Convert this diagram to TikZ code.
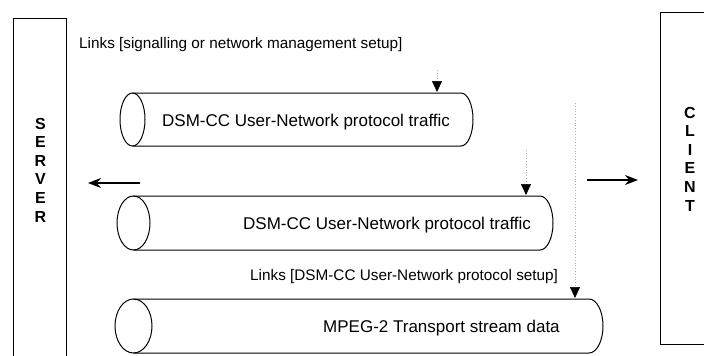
\documentclass[tikz,border=0pt]{standalone}
\usepackage{fontspec}
\setmainfont{Liberation Sans}
\usetikzlibrary{arrows.meta}
\begin{document}
\begin{tikzpicture}[x=1pt,y=-1pt,
  box/.style={draw, line width=1.2pt, inner sep=0pt, anchor=north west},
  tube/.style={draw, line width=1pt},
  lbl/.style={font=\fontsize{15.3}{18}\selectfont, anchor=base west, inner sep=0pt},
  tubetext/.style={font=\fontsize{17}{20}\selectfont, anchor=base west, inner sep=0pt},
  stack/.style={font=\bfseries\fontsize{16}{18.6}\selectfont, align=center, inner sep=0pt},
  stem/.style={draw=black!30, dash pattern=on 0.8pt off 2pt, line width=0.7pt,
    -{Triangle[width=10pt,length=11pt,color=black]}},
  flow/.style={line width=1.3pt, -{Stealth[length=13pt,width=10pt]}}]
\useasboundingbox (0,0) rectangle (704,356);
\clip (0,0) rectangle (704,356);

% end stations
\node[box, minimum width=53pt, minimum height=380pt] (server) at (13,18) {};
\node[box, minimum width=70pt, minimum height=332pt] (client) at (660,12) {};
\node[stack] (srvtxt) at (40.5,170) {S\\E\\R\\V\\E\\R};
\node[stack] (clitxt) at (690,159) {C\\L\\I\\E\\N\\T};

% first pipe
\draw[tube] (132.5,93) -- (461,93)
  arc[start angle=90, end angle=-90, x radius=12pt, y radius=26.5pt] -- (132.5,146);
\draw[tube] (132.5,119.5) ellipse [x radius=12.5pt, y radius=26.5pt];

% second pipe
\draw[tube] (133.5,196) -- (540,196)
  arc[start angle=90, end angle=-90, x radius=13pt, y radius=27pt] -- (133.5,250);
\draw[tube] (133.5,223) ellipse [x radius=16.5pt, y radius=27pt];

% third pipe
\draw[tube] (133.5,299) -- (589,299)
  arc[start angle=90, end angle=-90, x radius=14pt, y radius=27pt] -- (133.5,353);
\draw[tube] (133.5,326) ellipse [x radius=18.5pt, y radius=27pt];

% labels
\node[lbl] (lk1) at (79,48) {Links [signalling or network management setup]};
\node[lbl] (lk2) at (250,280) {Links [DSM-CC User-Network protocol setup]};
\node[tubetext] (tx1) at (162,126) {DSM-CC User-Network protocol traffic};
\node[tubetext] (tx2) at (243,229) {DSM-CC User-Network protocol traffic};
\node[tubetext] (tx3) at (323,332) {MPEG-2 Transport stream data};

% link set-up drops onto the pipes
\coordinate (d1s) at (437,70);  \coordinate (d1t) at (437,92);
\coordinate (d2s) at (526,150); \coordinate (d2t) at (526,195);
\coordinate (d3s) at (575,103); \coordinate (d3t) at (575,298);
\draw[stem] (d1s) -- (d1t);
\draw[stem] (d2s) -- (d2t);
\draw[stem] (d3s) -- (d3t);

% flow directions
\coordinate (la) at (140,183); \coordinate (lb) at (88,183);
\coordinate (ra) at (587,180); \coordinate (rb) at (638,180);
\draw[flow] (la) -- (lb);
\draw[flow] (ra) -- (rb);
\end{tikzpicture}
\end{document}
